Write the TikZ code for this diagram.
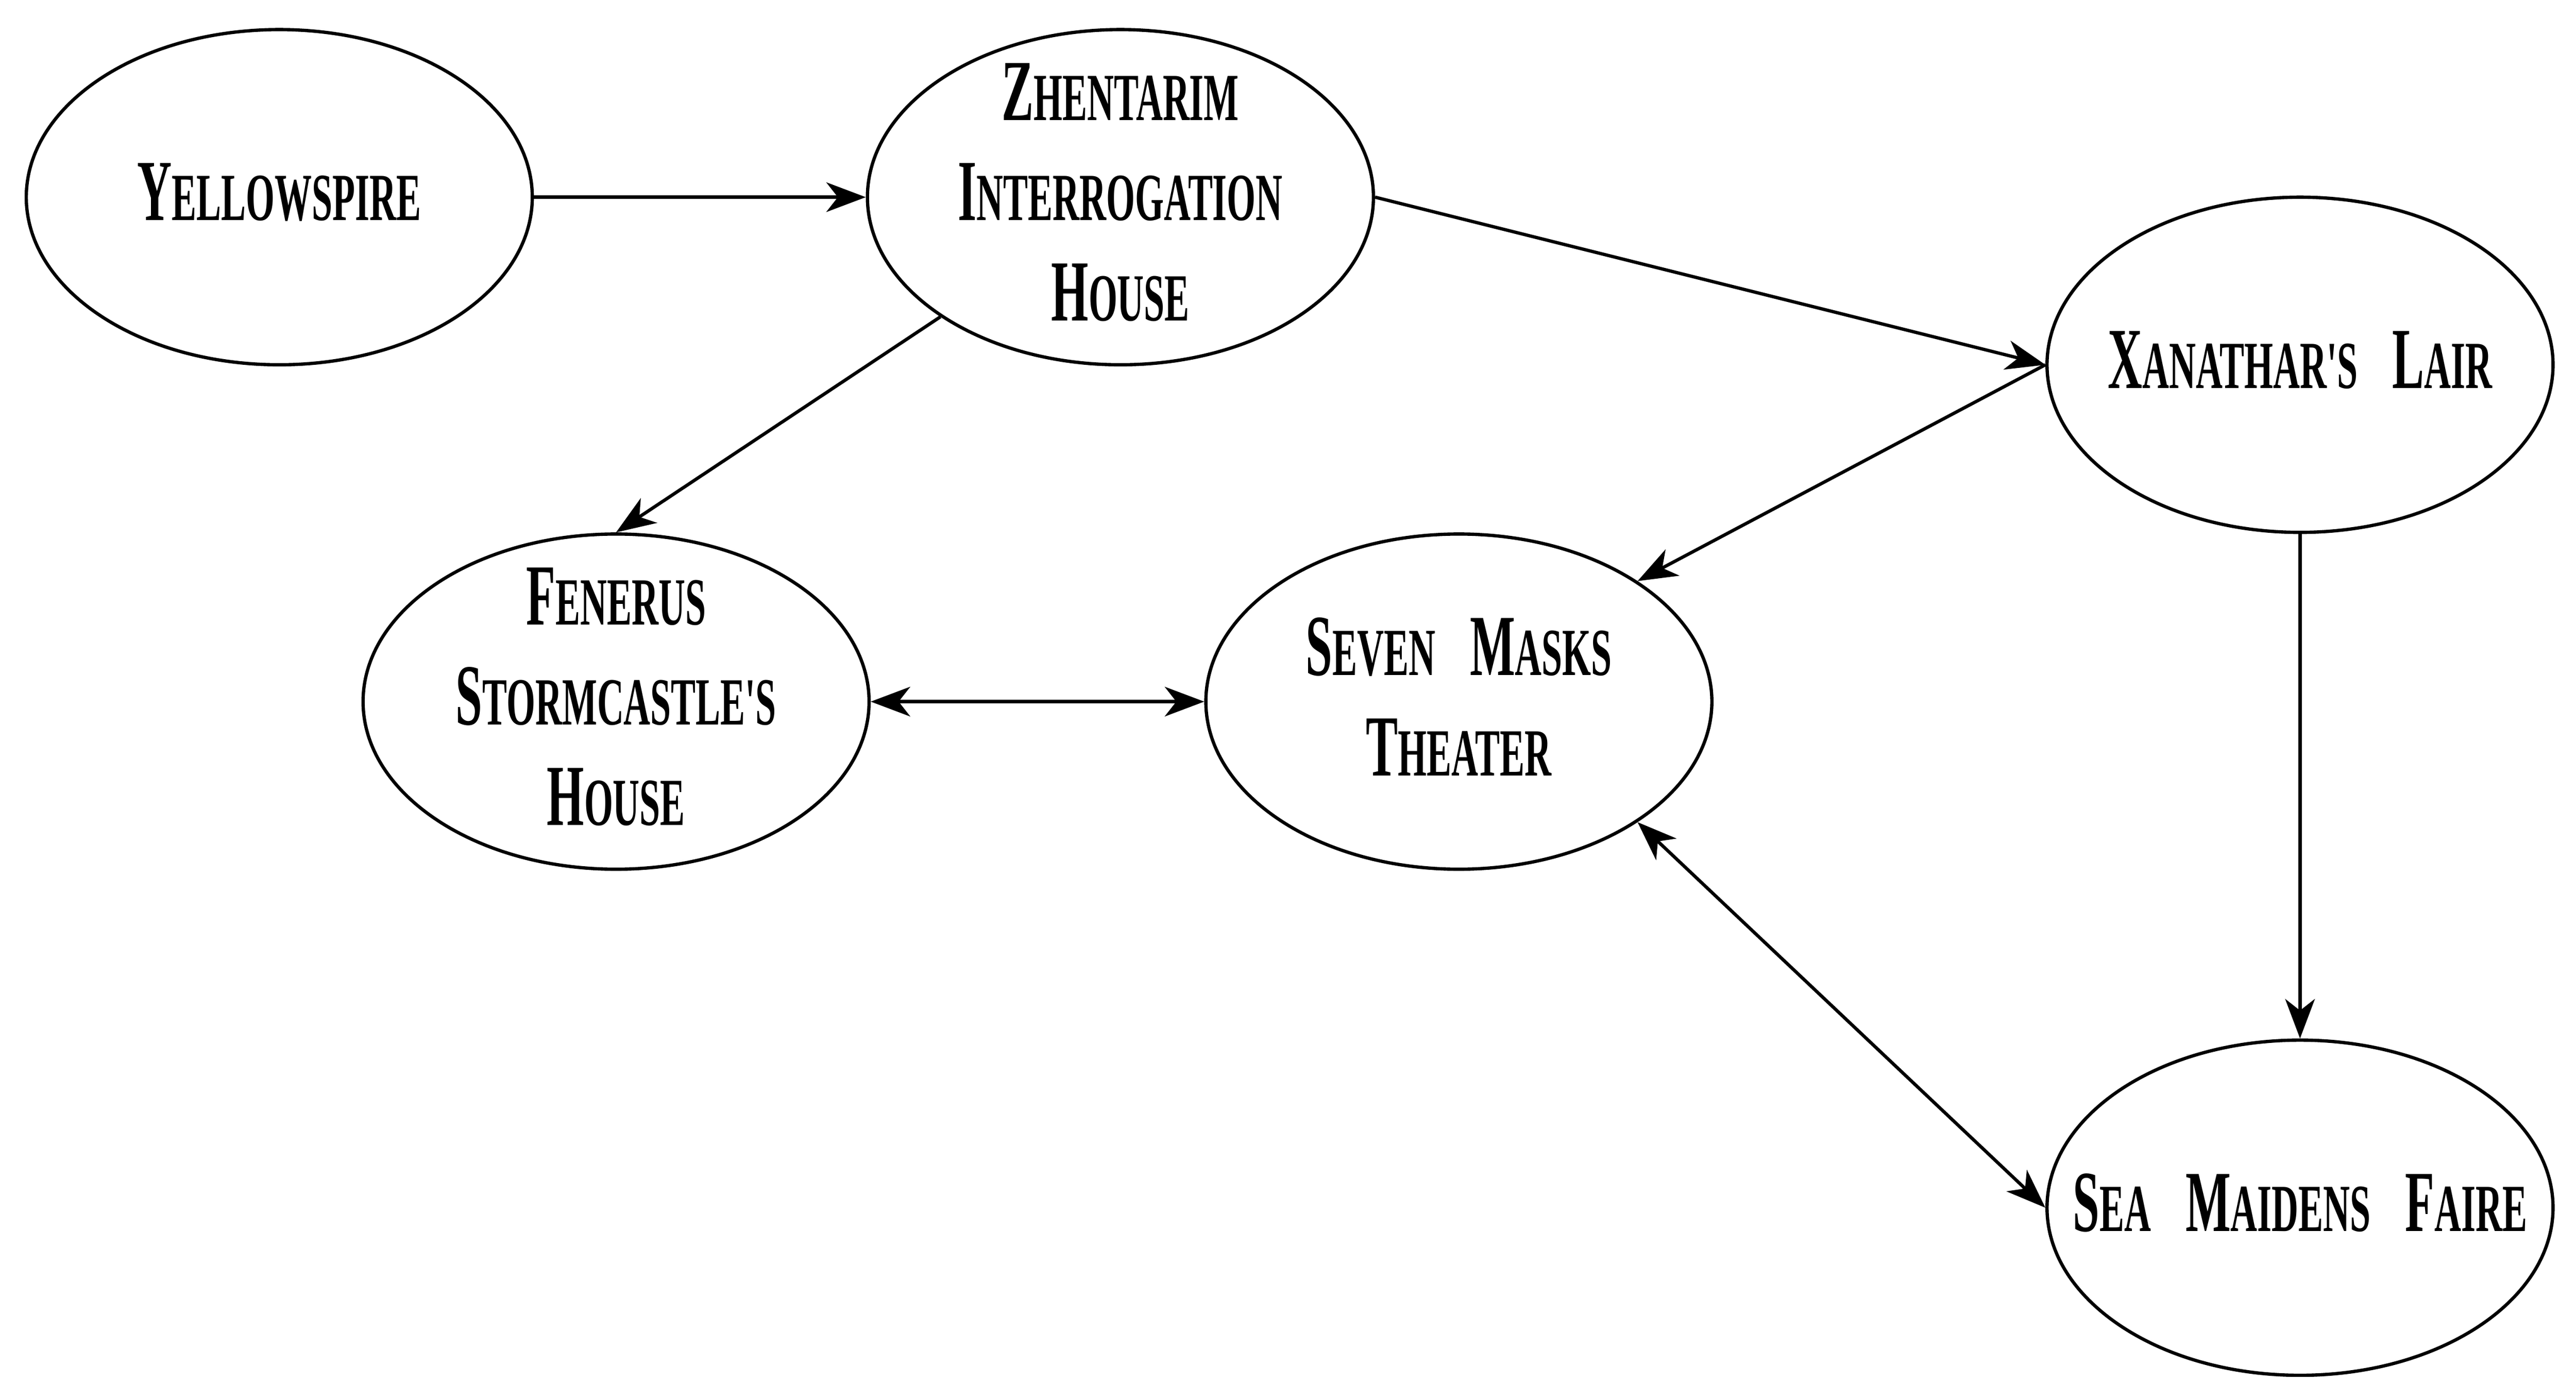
\documentclass[tikz,border=0pt]{standalone}
\usepackage{fontspec}
\newfontfamily\nf{Liberation Serif}[FakeStretch=0.55,Ligatures=ResetAll]
\usetikzlibrary{shapes.geometric,arrows.meta}
\newcommand\Cw[2]{{\fontsize{53}{61}\selectfont #1}{\fontsize{41}{61}\selectfont #2}}
\newcommand\Sp{\hspace{21pt}}
\begin{document}
\begin{tikzpicture}[x=1pt,y=-1pt,
 place/.style={ellipse,draw,line width=2pt,minimum width=308pt,minimum height=204pt,inner sep=0pt},
 lbl/.style={font=\nf\bfseries\fontsize{41}{61}\selectfont,align=center,inner sep=0pt},
 conn/.style={line width=2pt,-{Stealth[length=24pt,width=18pt,inset=7pt]}},
 both/.style={line width=2pt,{Stealth[length=24pt,width=18pt,inset=7pt]}-{Stealth[length=24pt,width=18pt,inset=7pt]}}]
\useasboundingbox (0,0) rectangle (1568,851.3);
\node[place] (ys) at (170,120) {};
\node[lbl] (ysT) at ([yshift=3pt]ys.center) {\Cw{Y}{ELLOWSPIRE}};
\node[place] (zh) at (682,120) {};
\node[lbl] (zhT) at ([yshift=3pt]zh.center) {\Cw{Z}{HENTARIM}\\\Cw{I}{NTERROGATION}\\\Cw{H}{OUSE}};
\node[place] (xl) at (1400,222) {};
\node[lbl] (xlT) at ([yshift=3pt]xl.center) {\Cw{X}{ANATHAR'S}\Sp\Cw{L}{AIR}};
\node[place] (fs) at (375,427) {};
\node[lbl] (fsT) at ([yshift=3pt]fs.center) {\Cw{F}{ENERUS}\\\Cw{S}{TORMCASTLE'S}\\\Cw{H}{OUSE}};
\node[place] (sm) at (888,427) {};
\node[lbl] (smT) at ([yshift=3pt]sm.center) {\Cw{S}{EVEN}\Sp\Cw{M}{ASKS}\\\Cw{T}{HEATER}};
\node[place] (sf) at (1400,735) {};
\node[lbl] (sfT) at ([yshift=3pt]sf.center) {\Cw{S}{EA}\Sp\Cw{M}{AIDENS}\Sp\Cw{F}{AIRE}};
\draw[conn] (ys.east) -- (zh.west);
\draw[conn] (zh.east) -- (xl.west);
\draw[conn] (zh) -- (fs.north);
\draw[conn] (xl.west) -- (sm.34);
\draw[conn] (xl.south) -- (sf.north);
\draw[both] (fs.east) -- (sm.west);
\draw[both] (sm.-34) -- (sf.west);
\end{tikzpicture}
\end{document}
